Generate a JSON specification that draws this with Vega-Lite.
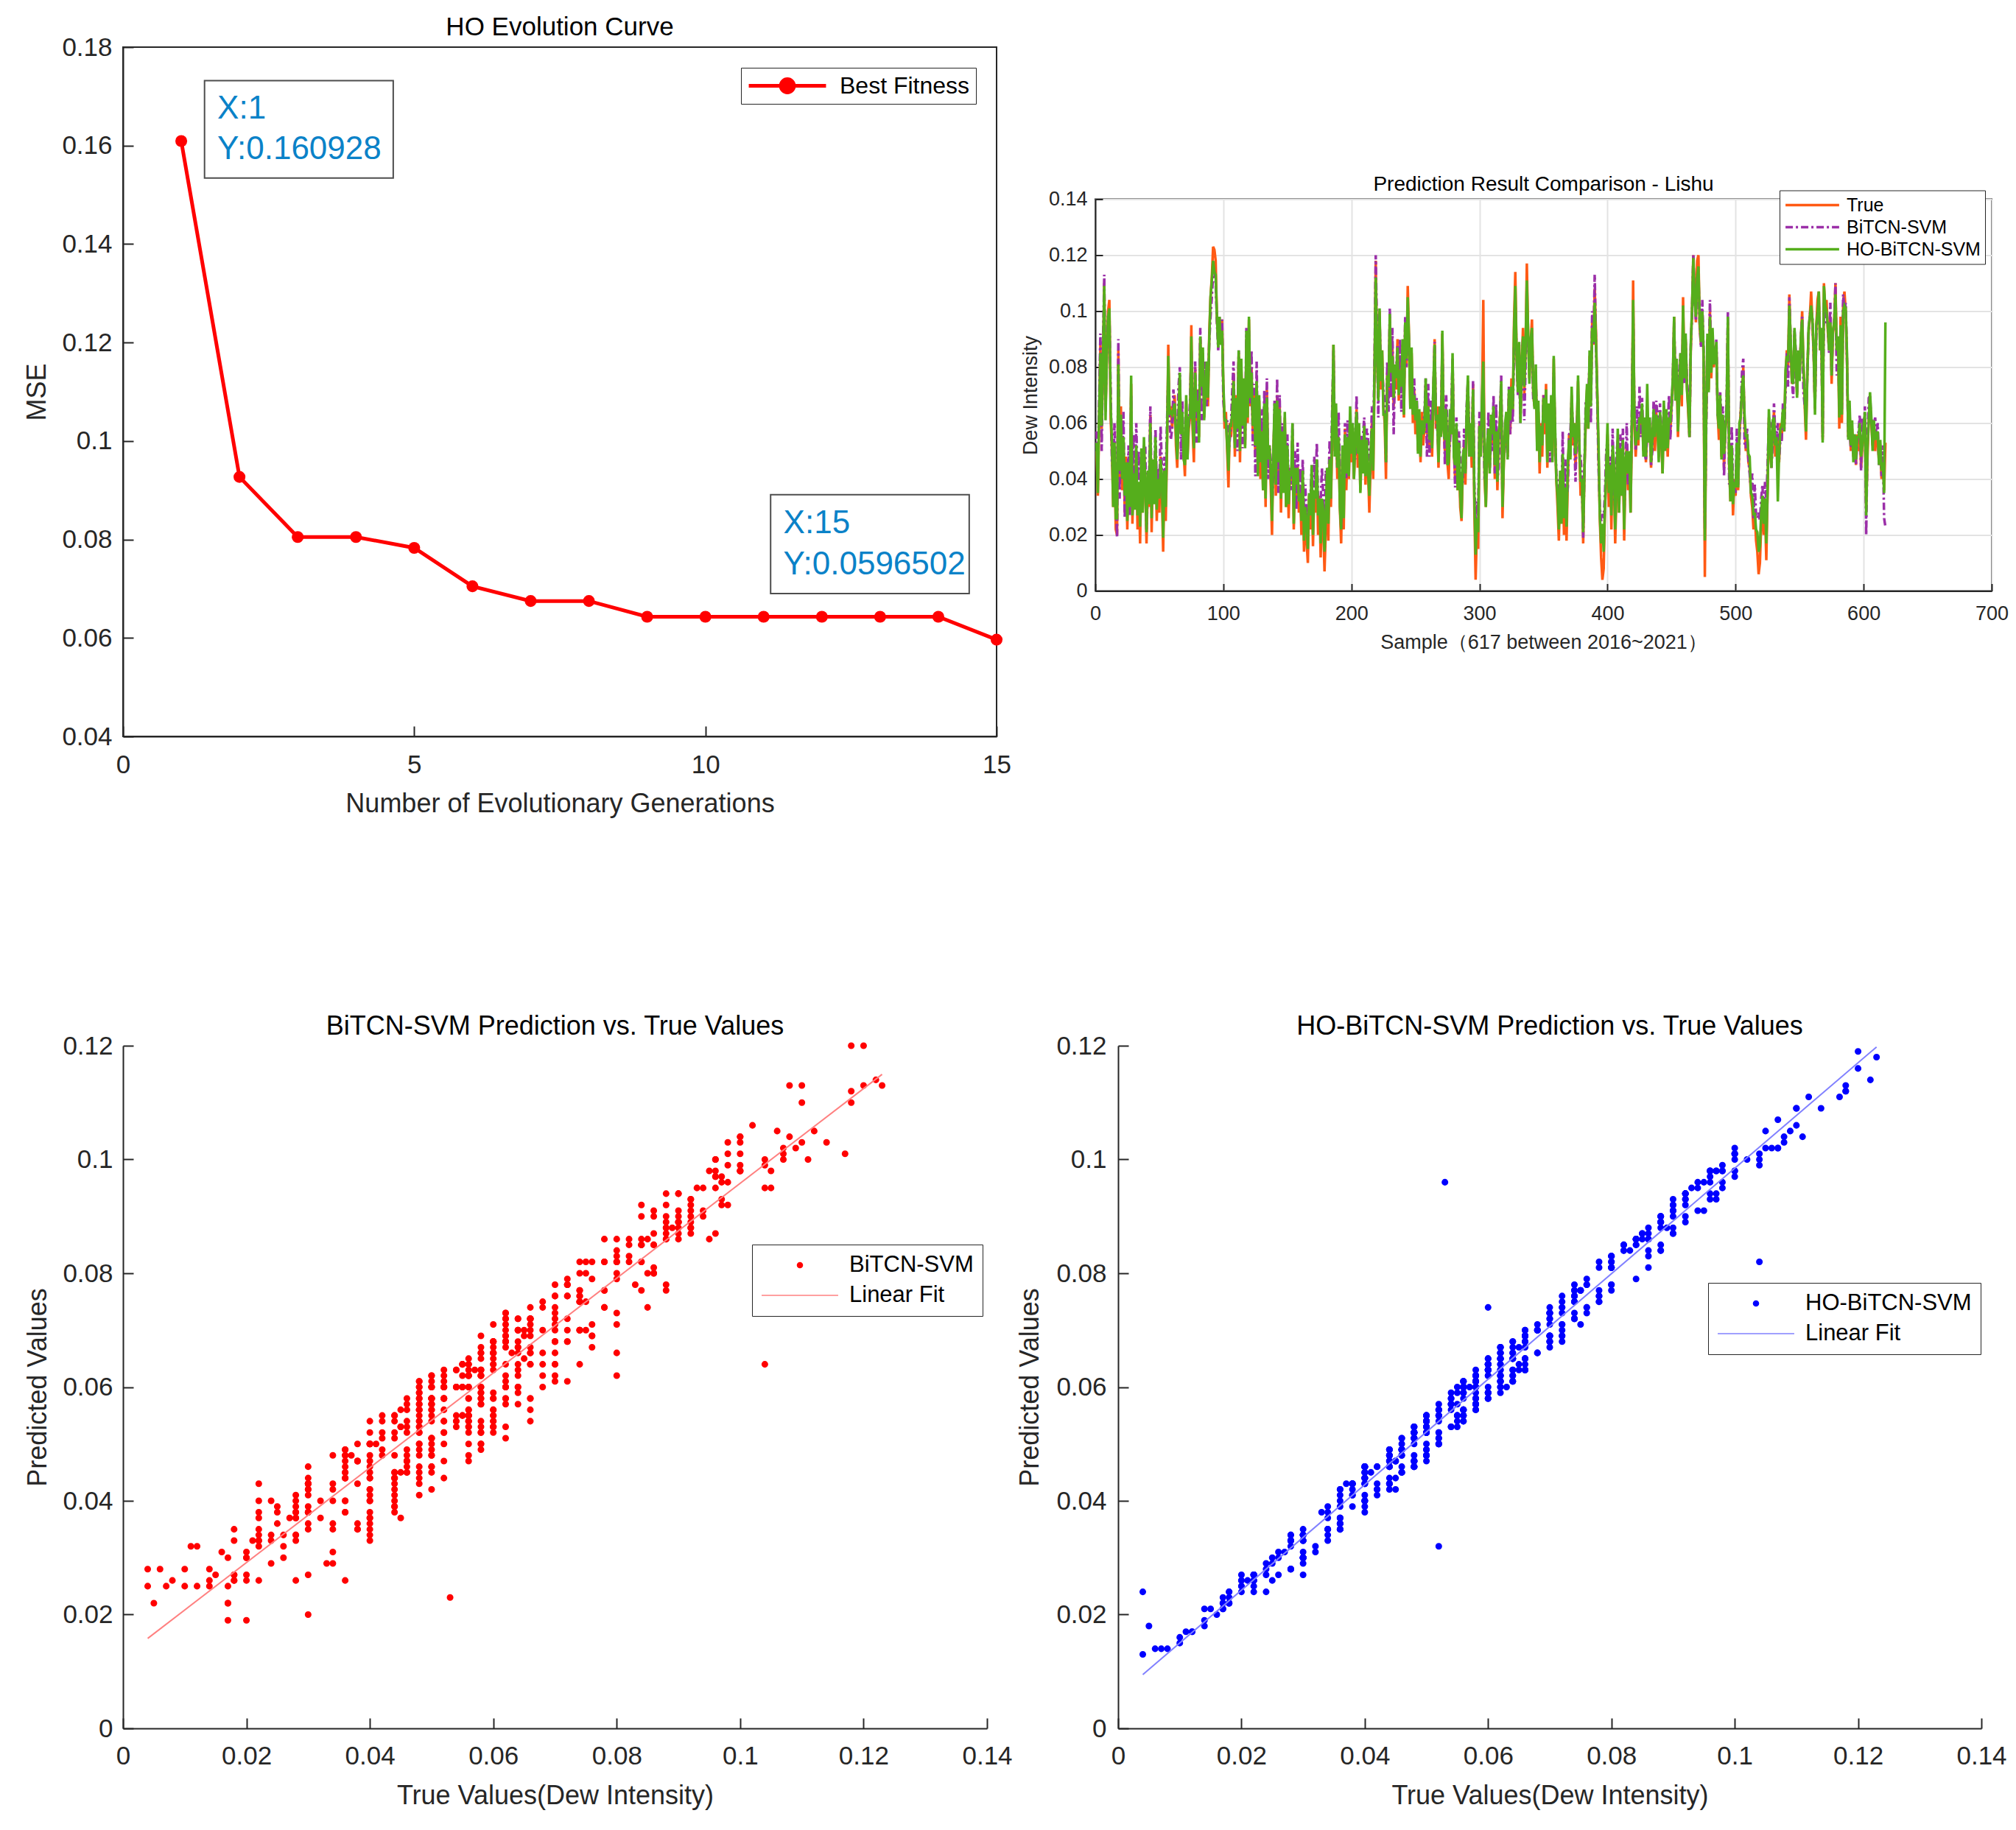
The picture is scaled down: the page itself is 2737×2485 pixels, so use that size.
{
"$schema": "https://vega.github.io/schema/vega-lite/v6.json",
"background": "white",
"padding": {"left": 31, "top": 19, "right": 8, "bottom": 10},
"config": {
  "font": "Liberation Sans",
  "view": {"stroke": null},
  "axis": {"labelFont": "Liberation Sans", "titleFont": "Liberation Sans", "labelColor": "#262626", "titleColor": "#262626", "domainColor": "#262626", "tickColor": "#262626", "titleFontWeight": "normal", "grid": false, "domainWidth": 2, "tickWidth": 2, "labelFlush": false, "labelOverlap": false},
  "title": {"font": "Liberation Sans", "fontWeight": "normal", "color": "#000000", "anchor": "middle"},
  "legend": {"labelFont": "Liberation Sans", "labelColor": "#000000", "labelLimit": 500}
},
"resolve": {"scale": {"color": "independent", "fill": "independent", "stroke": "independent", "shape": "independent", "size": "independent", "strokeDash": "independent"}, "legend": {"color": "independent", "fill": "independent", "stroke": "independent", "shape": "independent", "size": "independent", "strokeDash": "independent"}},
"datasets": {
  "evo": [{"g":1,"mse":0.160928},{"g":2,"mse":0.0927},{"g":3,"mse":0.0805},{"g":4,"mse":0.0805},{"g":5,"mse":0.0783},{"g":6,"mse":0.0705},{"g":7,"mse":0.0675},{"g":8,"mse":0.0675},{"g":9,"mse":0.0643},{"g":10,"mse":0.0643},{"g":11,"mse":0.0643},{"g":12,"mse":0.0643},{"g":13,"mse":0.0643},{"g":14,"mse":0.0643},{"g":15,"mse":0.0596502}],
  "tips": [{"x1":1.4,"x2":4.64,"y1":0.1732,"y2":0.1534},{"x1":11.12,"x2":14.53,"y1":0.0891,"y2":0.069}],
  "tipText": [{"x":1.62,"y":0.1675,"label":"X:1"},{"x":1.62,"y":0.1592,"label":"Y:0.160928"},{"x":11.34,"y":0.0832,"label":"X:15"},{"x":11.34,"y":0.0749,"label":"Y:0.0596502"}],
  "ts": [
{"i":1,"t":0.05,"b":0.057,"h":0.053},{"i":2,"t":0.034,"b":0.042,"h":0.035},{"i":3,"t":0.06,"b":0.068,"h":0.064},{"i":4,"t":0.088,"b":0.092,"h":0.085},{"i":5,"t":0.058,"b":0.05,"h":0.059},{"i":6,"t":0.078,"b":0.086,"h":0.082},{"i":7,"t":0.11,"b":0.113,"h":0.109},{"i":8,"t":0.064,"b":0.066,"h":0.061},{"i":9,"t":0.082,"b":0.085,"h":0.084},{"i":10,"t":0.1,"b":0.098,"h":0.098},
{"i":11,"t":0.104,"b":0.099,"h":0.101},{"i":12,"t":0.062,"b":0.072,"h":0.066},{"i":13,"t":0.05,"b":0.046,"h":0.053},{"i":14,"t":0.03,"b":0.043,"h":0.03},{"i":15,"t":0.048,"b":0.06,"h":0.053},{"i":16,"t":0.022,"b":0.035,"h":0.026},{"i":17,"t":0.02,"b":0.019,"h":0.026},{"i":18,"t":0.086,"b":0.09,"h":0.081},{"i":19,"t":0.04,"b":0.033,"h":0.043},{"i":20,"t":0.066,"b":0.058,"h":0.063},
{"i":21,"t":0.036,"b":0.046,"h":0.04},{"i":22,"t":0.055,"b":0.064,"h":0.055},{"i":23,"t":0.028,"b":0.026,"h":0.034},{"i":24,"t":0.048,"b":0.046,"h":0.046},{"i":25,"t":0.022,"b":0.033,"h":0.025},{"i":26,"t":0.042,"b":0.052,"h":0.046},{"i":27,"t":0.03,"b":0.027,"h":0.03},{"i":28,"t":0.074,"b":0.07,"h":0.077},{"i":29,"t":0.024,"b":0.04,"h":0.027},{"i":30,"t":0.045,"b":0.056,"h":0.042},
{"i":31,"t":0.03,"b":0.038,"h":0.029},{"i":32,"t":0.05,"b":0.06,"h":0.052},{"i":33,"t":0.022,"b":0.04,"h":0.027},{"i":34,"t":0.038,"b":0.05,"h":0.039},{"i":35,"t":0.017,"b":0.025,"h":0.023},{"i":36,"t":0.046,"b":0.046,"h":0.051},{"i":37,"t":0.028,"b":0.041,"h":0.028},{"i":38,"t":0.052,"b":0.052,"h":0.055},{"i":39,"t":0.04,"b":0.052,"h":0.038},{"i":40,"t":0.017,"b":0.022,"h":0.021},
{"i":41,"t":0.038,"b":0.035,"h":0.043},{"i":42,"t":0.03,"b":0.041,"h":0.031},{"i":43,"t":0.063,"b":0.066,"h":0.06},{"i":44,"t":0.021,"b":0.033,"h":0.026},{"i":45,"t":0.045,"b":0.037,"h":0.047},{"i":46,"t":0.032,"b":0.037,"h":0.031},{"i":47,"t":0.05,"b":0.058,"h":0.055},{"i":48,"t":0.025,"b":0.038,"h":0.029},{"i":49,"t":0.04,"b":0.044,"h":0.04},{"i":50,"t":0.028,"b":0.034,"h":0.033},
{"i":51,"t":0.048,"b":0.059,"h":0.047},{"i":52,"t":0.036,"b":0.044,"h":0.041},{"i":53,"t":0.014,"b":0.025,"h":0.019},{"i":54,"t":0.042,"b":0.048,"h":0.043},{"i":55,"t":0.025,"b":0.039,"h":0.03},{"i":56,"t":0.05,"b":0.06,"h":0.053},{"i":57,"t":0.088,"b":0.077,"h":0.084},{"i":58,"t":0.062,"b":0.06,"h":0.063},{"i":59,"t":0.066,"b":0.054,"h":0.064},{"i":60,"t":0.058,"b":0.058,"h":0.063},
{"i":61,"t":0.064,"b":0.072,"h":0.065},{"i":62,"t":0.07,"b":0.064,"h":0.067},{"i":63,"t":0.052,"b":0.058,"h":0.056},{"i":64,"t":0.044,"b":0.054,"h":0.047},{"i":65,"t":0.062,"b":0.073,"h":0.061},{"i":66,"t":0.074,"b":0.08,"h":0.078},{"i":67,"t":0.056,"b":0.047,"h":0.056},{"i":68,"t":0.06,"b":0.068,"h":0.064},{"i":69,"t":0.05,"b":0.048,"h":0.047},{"i":70,"t":0.041,"b":0.05,"h":0.045},
{"i":71,"t":0.068,"b":0.062,"h":0.07},{"i":72,"t":0.048,"b":0.058,"h":0.047},{"i":73,"t":0.058,"b":0.059,"h":0.062},{"i":74,"t":0.062,"b":0.068,"h":0.062},{"i":75,"t":0.095,"b":0.086,"h":0.091},{"i":76,"t":0.058,"b":0.063,"h":0.06},{"i":77,"t":0.046,"b":0.053,"h":0.051},{"i":78,"t":0.08,"b":0.082,"h":0.078},{"i":79,"t":0.06,"b":0.053,"h":0.064},{"i":80,"t":0.072,"b":0.072,"h":0.068},
{"i":81,"t":0.055,"b":0.062,"h":0.053},{"i":82,"t":0.09,"b":0.094,"h":0.091},{"i":83,"t":0.072,"b":0.061,"h":0.073},{"i":84,"t":0.085,"b":0.08,"h":0.087},{"i":85,"t":0.062,"b":0.071,"h":0.061},{"i":86,"t":0.075,"b":0.082,"h":0.071},{"i":87,"t":0.08,"b":0.066,"h":0.082},{"i":88,"t":0.066,"b":0.074,"h":0.069},{"i":89,"t":0.092,"b":0.089,"h":0.09},{"i":90,"t":0.105,"b":0.098,"h":0.105},
{"i":91,"t":0.112,"b":0.105,"h":0.111},{"i":92,"t":0.123,"b":0.113,"h":0.118},{"i":93,"t":0.122,"b":0.114,"h":0.114},{"i":94,"t":0.118,"b":0.11,"h":0.113},{"i":95,"t":0.097,"b":0.096,"h":0.098},{"i":96,"t":0.09,"b":0.086,"h":0.087},{"i":97,"t":0.096,"b":0.098,"h":0.098},{"i":98,"t":0.089,"b":0.088,"h":0.088},{"i":99,"t":0.097,"b":0.097,"h":0.093},{"i":100,"t":0.072,"b":0.068,"h":0.074},
{"i":101,"t":0.058,"b":0.062,"h":0.061},{"i":102,"t":0.064,"b":0.06,"h":0.061},{"i":103,"t":0.05,"b":0.061,"h":0.052},{"i":104,"t":0.037,"b":0.048,"h":0.043},{"i":105,"t":0.06,"b":0.054,"h":0.059},{"i":106,"t":0.055,"b":0.06,"h":0.059},{"i":107,"t":0.062,"b":0.072,"h":0.064},{"i":108,"t":0.078,"b":0.082,"h":0.075},{"i":109,"t":0.048,"b":0.053,"h":0.051},{"i":110,"t":0.07,"b":0.066,"h":0.069},
{"i":111,"t":0.058,"b":0.05,"h":0.058},{"i":112,"t":0.085,"b":0.086,"h":0.086},{"i":113,"t":0.046,"b":0.056,"h":0.05},{"i":114,"t":0.08,"b":0.062,"h":0.083},{"i":115,"t":0.062,"b":0.051,"h":0.059},{"i":116,"t":0.074,"b":0.07,"h":0.076},{"i":117,"t":0.052,"b":0.054,"h":0.051},{"i":118,"t":0.09,"b":0.094,"h":0.093},{"i":119,"t":0.06,"b":0.071,"h":0.062},{"i":120,"t":0.097,"b":0.093,"h":0.098},
{"i":121,"t":0.066,"b":0.067,"h":0.069},{"i":122,"t":0.08,"b":0.086,"h":0.078},{"i":123,"t":0.056,"b":0.052,"h":0.059},{"i":124,"t":0.07,"b":0.074,"h":0.069},{"i":125,"t":0.048,"b":0.041,"h":0.052},{"i":126,"t":0.074,"b":0.082,"h":0.075},{"i":127,"t":0.042,"b":0.049,"h":0.041},{"i":128,"t":0.068,"b":0.064,"h":0.07},{"i":129,"t":0.04,"b":0.05,"h":0.046},{"i":130,"t":0.058,"b":0.065,"h":0.057},
{"i":131,"t":0.036,"b":0.045,"h":0.036},{"i":132,"t":0.064,"b":0.072,"h":0.067},{"i":133,"t":0.03,"b":0.043,"h":0.033},{"i":134,"t":0.072,"b":0.076,"h":0.069},{"i":135,"t":0.044,"b":0.04,"h":0.047},{"i":136,"t":0.052,"b":0.052,"h":0.052},{"i":137,"t":0.038,"b":0.047,"h":0.043},{"i":138,"t":0.02,"b":0.03,"h":0.025},{"i":139,"t":0.05,"b":0.042,"h":0.049},{"i":140,"t":0.062,"b":0.068,"h":0.067},
{"i":141,"t":0.034,"b":0.04,"h":0.038},{"i":142,"t":0.07,"b":0.076,"h":0.068},{"i":143,"t":0.04,"b":0.035,"h":0.046},{"i":144,"t":0.066,"b":0.07,"h":0.065},{"i":145,"t":0.028,"b":0.037,"h":0.033},{"i":146,"t":0.054,"b":0.06,"h":0.057},{"i":147,"t":0.036,"b":0.049,"h":0.035},{"i":148,"t":0.062,"b":0.058,"h":0.064},{"i":149,"t":0.03,"b":0.036,"h":0.03},{"i":150,"t":0.048,"b":0.056,"h":0.052},
{"i":151,"t":0.026,"b":0.034,"h":0.031},{"i":152,"t":0.044,"b":0.044,"h":0.043},{"i":153,"t":0.038,"b":0.036,"h":0.041},{"i":154,"t":0.055,"b":0.06,"h":0.06},{"i":155,"t":0.022,"b":0.037,"h":0.024},{"i":156,"t":0.04,"b":0.05,"h":0.044},{"i":157,"t":0.033,"b":0.029,"h":0.038},{"i":158,"t":0.045,"b":0.053,"h":0.044},{"i":159,"t":0.028,"b":0.033,"h":0.032},{"i":160,"t":0.036,"b":0.044,"h":0.035},
{"i":161,"t":0.02,"b":0.03,"h":0.025},{"i":162,"t":0.038,"b":0.047,"h":0.043},{"i":163,"t":0.014,"b":0.028,"h":0.018},{"i":164,"t":0.03,"b":0.038,"h":0.03},{"i":165,"t":0.018,"b":0.026,"h":0.024},{"i":166,"t":0.01,"b":0.028,"h":0.015},{"i":167,"t":0.034,"b":0.031,"h":0.035},{"i":168,"t":0.022,"b":0.033,"h":0.027},{"i":169,"t":0.04,"b":0.045,"h":0.045},{"i":170,"t":0.016,"b":0.031,"h":0.02},
{"i":171,"t":0.036,"b":0.048,"h":0.036},{"i":172,"t":0.028,"b":0.037,"h":0.033},{"i":173,"t":0.045,"b":0.053,"h":0.047},{"i":174,"t":0.02,"b":0.031,"h":0.027},{"i":175,"t":0.034,"b":0.029,"h":0.033},{"i":176,"t":0.012,"b":0.032,"h":0.017},{"i":177,"t":0.03,"b":0.044,"h":0.033},{"i":178,"t":0.024,"b":0.034,"h":0.029},{"i":179,"t":0.007,"b":0.025,"h":0.014},{"i":180,"t":0.022,"b":0.043,"h":0.027},
{"i":181,"t":0.04,"b":0.036,"h":0.044},{"i":182,"t":0.018,"b":0.035,"h":0.024},{"i":183,"t":0.048,"b":0.054,"h":0.047},{"i":184,"t":0.03,"b":0.043,"h":0.033},{"i":185,"t":0.056,"b":0.065,"h":0.06},{"i":186,"t":0.088,"b":0.086,"h":0.088},{"i":187,"t":0.05,"b":0.057,"h":0.048},{"i":188,"t":0.062,"b":0.058,"h":0.067},{"i":189,"t":0.04,"b":0.044,"h":0.044},{"i":190,"t":0.055,"b":0.064,"h":0.055},
{"i":191,"t":0.03,"b":0.042,"h":0.03},{"i":192,"t":0.017,"b":0.022,"h":0.022},{"i":193,"t":0.048,"b":0.043,"h":0.052},{"i":194,"t":0.022,"b":0.038,"h":0.026},{"i":195,"t":0.058,"b":0.06,"h":0.056},{"i":196,"t":0.036,"b":0.04,"h":0.042},{"i":197,"t":0.052,"b":0.061,"h":0.055},{"i":198,"t":0.04,"b":0.047,"h":0.041},{"i":199,"t":0.062,"b":0.057,"h":0.066},{"i":200,"t":0.046,"b":0.052,"h":0.049},
{"i":201,"t":0.056,"b":0.06,"h":0.06},{"i":202,"t":0.04,"b":0.05,"h":0.04},{"i":203,"t":0.052,"b":0.047,"h":0.055},{"i":204,"t":0.065,"b":0.07,"h":0.064},{"i":205,"t":0.044,"b":0.052,"h":0.049},{"i":206,"t":0.058,"b":0.054,"h":0.06},{"i":207,"t":0.036,"b":0.044,"h":0.035},{"i":208,"t":0.05,"b":0.055,"h":0.054},{"i":209,"t":0.042,"b":0.055,"h":0.042},{"i":210,"t":0.056,"b":0.062,"h":0.059},
{"i":211,"t":0.038,"b":0.047,"h":0.041},{"i":212,"t":0.05,"b":0.058,"h":0.054},{"i":213,"t":0.044,"b":0.055,"h":0.043},{"i":214,"t":0.028,"b":0.038,"h":0.034},{"i":215,"t":0.046,"b":0.045,"h":0.049},{"i":216,"t":0.06,"b":0.066,"h":0.058},{"i":217,"t":0.04,"b":0.054,"h":0.043},{"i":218,"t":0.075,"b":0.08,"h":0.077},{"i":219,"t":0.118,"b":0.12,"h":0.112},{"i":220,"t":0.084,"b":0.092,"h":0.086},
{"i":221,"t":0.07,"b":0.062,"h":0.068},{"i":222,"t":0.1,"b":0.098,"h":0.101},{"i":223,"t":0.072,"b":0.078,"h":0.075},{"i":224,"t":0.086,"b":0.08,"h":0.086},{"i":225,"t":0.066,"b":0.072,"h":0.063},{"i":226,"t":0.06,"b":0.068,"h":0.063},{"i":227,"t":0.04,"b":0.046,"h":0.046},{"i":228,"t":0.078,"b":0.082,"h":0.077},{"i":229,"t":0.07,"b":0.064,"h":0.073},{"i":230,"t":0.098,"b":0.101,"h":0.099},
{"i":231,"t":0.076,"b":0.069,"h":0.078},{"i":232,"t":0.088,"b":0.094,"h":0.084},{"i":233,"t":0.066,"b":0.056,"h":0.069},{"i":234,"t":0.08,"b":0.079,"h":0.081},{"i":235,"t":0.072,"b":0.079,"h":0.076},{"i":236,"t":0.09,"b":0.088,"h":0.087},{"i":237,"t":0.068,"b":0.075,"h":0.07},{"i":238,"t":0.084,"b":0.09,"h":0.079},{"i":239,"t":0.074,"b":0.064,"h":0.073},{"i":240,"t":0.088,"b":0.086,"h":0.09},
{"i":241,"t":0.062,"b":0.069,"h":0.063},{"i":242,"t":0.095,"b":0.098,"h":0.096},{"i":243,"t":0.08,"b":0.08,"h":0.083},{"i":244,"t":0.109,"b":0.102,"h":0.105},{"i":245,"t":0.09,"b":0.087,"h":0.09},{"i":246,"t":0.066,"b":0.072,"h":0.065},{"i":247,"t":0.085,"b":0.074,"h":0.087},{"i":248,"t":0.06,"b":0.064,"h":0.063},{"i":249,"t":0.072,"b":0.076,"h":0.07},{"i":250,"t":0.056,"b":0.062,"h":0.061},
{"i":251,"t":0.066,"b":0.069,"h":0.068},{"i":252,"t":0.05,"b":0.056,"h":0.049},{"i":253,"t":0.06,"b":0.052,"h":0.065},{"i":254,"t":0.046,"b":0.054,"h":0.048},{"i":255,"t":0.064,"b":0.059,"h":0.061},{"i":256,"t":0.052,"b":0.06,"h":0.056},{"i":257,"t":0.058,"b":0.063,"h":0.058},{"i":258,"t":0.074,"b":0.076,"h":0.076},{"i":259,"t":0.056,"b":0.048,"h":0.06},{"i":260,"t":0.068,"b":0.074,"h":0.066},
{"i":261,"t":0.05,"b":0.048,"h":0.054},{"i":262,"t":0.062,"b":0.068,"h":0.061},{"i":263,"t":0.048,"b":0.061,"h":0.051},{"i":264,"t":0.07,"b":0.072,"h":0.074},{"i":265,"t":0.09,"b":0.089,"h":0.088},{"i":266,"t":0.058,"b":0.062,"h":0.061},{"i":267,"t":0.066,"b":0.058,"h":0.063},{"i":268,"t":0.044,"b":0.051,"h":0.046},{"i":269,"t":0.062,"b":0.064,"h":0.066},{"i":270,"t":0.056,"b":0.06,"h":0.055},
{"i":271,"t":0.092,"b":0.088,"h":0.093},{"i":272,"t":0.06,"b":0.066,"h":0.058},{"i":273,"t":0.05,"b":0.045,"h":0.054},{"i":274,"t":0.064,"b":0.07,"h":0.065},{"i":275,"t":0.046,"b":0.058,"h":0.045},{"i":276,"t":0.04,"b":0.048,"h":0.046},{"i":277,"t":0.062,"b":0.053,"h":0.065},{"i":278,"t":0.056,"b":0.064,"h":0.056},{"i":279,"t":0.082,"b":0.083,"h":0.085},{"i":280,"t":0.05,"b":0.054,"h":0.048},
{"i":281,"t":0.04,"b":0.037,"h":0.045},{"i":282,"t":0.058,"b":0.062,"h":0.06},{"i":283,"t":0.036,"b":0.048,"h":0.036},{"i":284,"t":0.048,"b":0.057,"h":0.053},{"i":285,"t":0.03,"b":0.046,"h":0.034},{"i":286,"t":0.025,"b":0.036,"h":0.026},{"i":287,"t":0.044,"b":0.039,"h":0.048},{"i":288,"t":0.052,"b":0.058,"h":0.051},{"i":289,"t":0.038,"b":0.043,"h":0.042},{"i":290,"t":0.06,"b":0.066,"h":0.064},
{"i":291,"t":0.075,"b":0.075,"h":0.077},{"i":292,"t":0.05,"b":0.056,"h":0.048},{"i":293,"t":0.058,"b":0.052,"h":0.06},{"i":294,"t":0.044,"b":0.048,"h":0.048},{"i":295,"t":0.074,"b":0.075,"h":0.072},{"i":296,"t":0.03,"b":0.038,"h":0.034},{"i":297,"t":0.004,"b":0.025,"h":0.013},{"i":298,"t":0.022,"b":0.032,"h":0.026},{"i":299,"t":0.015,"b":0.027,"h":0.021},{"i":300,"t":0.06,"b":0.064,"h":0.059},
{"i":301,"t":0.048,"b":0.052,"h":0.048},{"i":302,"t":0.066,"b":0.064,"h":0.069},{"i":303,"t":0.104,"b":0.064,"h":0.082},{"i":304,"t":0.04,"b":0.04,"h":0.044},{"i":305,"t":0.03,"b":0.043,"h":0.03},{"i":306,"t":0.048,"b":0.05,"h":0.053},{"i":307,"t":0.056,"b":0.064,"h":0.058},{"i":308,"t":0.044,"b":0.044,"h":0.042},{"i":309,"t":0.06,"b":0.053,"h":0.063},{"i":310,"t":0.052,"b":0.05,"h":0.056},
{"i":311,"t":0.064,"b":0.07,"h":0.066},{"i":312,"t":0.04,"b":0.042,"h":0.045},{"i":313,"t":0.058,"b":0.067,"h":0.057},{"i":314,"t":0.036,"b":0.04,"h":0.039},{"i":315,"t":0.052,"b":0.044,"h":0.057},{"i":316,"t":0.062,"b":0.062,"h":0.06},{"i":317,"t":0.074,"b":0.077,"h":0.075},{"i":318,"t":0.026,"b":0.032,"h":0.03},{"i":319,"t":0.046,"b":0.049,"h":0.046},{"i":320,"t":0.056,"b":0.054,"h":0.06},
{"i":321,"t":0.06,"b":0.055,"h":0.064},{"i":322,"t":0.048,"b":0.048,"h":0.047},{"i":323,"t":0.07,"b":0.073,"h":0.072},{"i":324,"t":0.056,"b":0.056,"h":0.061},{"i":325,"t":0.076,"b":0.067,"h":0.073},{"i":326,"t":0.064,"b":0.06,"h":0.065},{"i":327,"t":0.096,"b":0.087,"h":0.093},{"i":328,"t":0.114,"b":0.103,"h":0.109},{"i":329,"t":0.084,"b":0.085,"h":0.085},{"i":330,"t":0.072,"b":0.07,"h":0.071},
{"i":331,"t":0.088,"b":0.078,"h":0.089},{"i":332,"t":0.062,"b":0.06,"h":0.06},{"i":333,"t":0.08,"b":0.082,"h":0.081},{"i":334,"t":0.094,"b":0.09,"h":0.091},{"i":335,"t":0.07,"b":0.061,"h":0.073},{"i":336,"t":0.086,"b":0.08,"h":0.087},{"i":337,"t":0.117,"b":0.101,"h":0.111},{"i":338,"t":0.092,"b":0.088,"h":0.092},{"i":339,"t":0.076,"b":0.082,"h":0.074},{"i":340,"t":0.088,"b":0.088,"h":0.09},
{"i":341,"t":0.097,"b":0.092,"h":0.094},{"i":342,"t":0.07,"b":0.068,"h":0.072},{"i":343,"t":0.066,"b":0.072,"h":0.065},{"i":344,"t":0.078,"b":0.074,"h":0.081},{"i":345,"t":0.052,"b":0.063,"h":0.05},{"i":346,"t":0.064,"b":0.062,"h":0.068},{"i":347,"t":0.042,"b":0.051,"h":0.046},{"i":348,"t":0.06,"b":0.058,"h":0.059},{"i":349,"t":0.048,"b":0.053,"h":0.052},{"i":350,"t":0.07,"b":0.07,"h":0.069},
{"i":351,"t":0.056,"b":0.062,"h":0.06},{"i":352,"t":0.074,"b":0.07,"h":0.072},{"i":353,"t":0.044,"b":0.055,"h":0.046},{"i":354,"t":0.062,"b":0.06,"h":0.067},{"i":355,"t":0.05,"b":0.046,"h":0.05},{"i":356,"t":0.068,"b":0.066,"h":0.07},{"i":357,"t":0.048,"b":0.061,"h":0.046},{"i":358,"t":0.083,"b":0.078,"h":0.084},{"i":359,"t":0.056,"b":0.058,"h":0.06},{"i":360,"t":0.04,"b":0.042,"h":0.04},
{"i":361,"t":0.03,"b":0.039,"h":0.034},{"i":362,"t":0.018,"b":0.026,"h":0.022},{"i":363,"t":0.038,"b":0.035,"h":0.043},{"i":364,"t":0.024,"b":0.029,"h":0.024},{"i":365,"t":0.046,"b":0.057,"h":0.049},{"i":366,"t":0.02,"b":0.027,"h":0.026},{"i":367,"t":0.036,"b":0.047,"h":0.037},{"i":368,"t":0.018,"b":0.033,"h":0.023},{"i":369,"t":0.04,"b":0.037,"h":0.046},{"i":370,"t":0.056,"b":0.056,"h":0.054},
{"i":371,"t":0.048,"b":0.057,"h":0.047},{"i":372,"t":0.07,"b":0.068,"h":0.073},{"i":373,"t":0.052,"b":0.058,"h":0.055},{"i":374,"t":0.06,"b":0.056,"h":0.06},{"i":375,"t":0.044,"b":0.039,"h":0.049},{"i":376,"t":0.058,"b":0.058,"h":0.056},{"i":377,"t":0.075,"b":0.07,"h":0.077},{"i":378,"t":0.05,"b":0.05,"h":0.052},{"i":379,"t":0.034,"b":0.048,"h":0.039},{"i":380,"t":0.04,"b":0.04,"h":0.04},
{"i":381,"t":0.017,"b":0.019,"h":0.021},{"i":382,"t":0.044,"b":0.045,"h":0.043},{"i":383,"t":0.06,"b":0.068,"h":0.064},{"i":384,"t":0.072,"b":0.068,"h":0.074},{"i":385,"t":0.058,"b":0.069,"h":0.058},{"i":386,"t":0.084,"b":0.082,"h":0.086},{"i":387,"t":0.068,"b":0.06,"h":0.066},{"i":388,"t":0.096,"b":0.1,"h":0.094},{"i":389,"t":0.088,"b":0.088,"h":0.089},{"i":390,"t":0.108,"b":0.113,"h":0.103},
{"i":391,"t":0.092,"b":0.087,"h":0.089},{"i":392,"t":0.07,"b":0.068,"h":0.071},{"i":393,"t":0.048,"b":0.044,"h":0.052},{"i":394,"t":0.026,"b":0.03,"h":0.027},{"i":395,"t":0.012,"b":0.025,"h":0.017},{"i":396,"t":0.004,"b":0.028,"h":0.024},{"i":397,"t":0.008,"b":0.026,"h":0.014},{"i":398,"t":0.03,"b":0.035,"h":0.03},{"i":399,"t":0.04,"b":0.05,"h":0.044},{"i":400,"t":0.056,"b":0.054,"h":0.06},
{"i":401,"t":0.03,"b":0.043,"h":0.035},{"i":402,"t":0.046,"b":0.048,"h":0.045},{"i":403,"t":0.022,"b":0.034,"h":0.027},{"i":404,"t":0.05,"b":0.058,"h":0.052},{"i":405,"t":0.04,"b":0.034,"h":0.046},{"i":406,"t":0.017,"b":0.03,"h":0.022},{"i":407,"t":0.036,"b":0.049,"h":0.037},{"i":408,"t":0.054,"b":0.054,"h":0.058},{"i":409,"t":0.028,"b":0.04,"h":0.028},{"i":410,"t":0.048,"b":0.056,"h":0.051},
{"i":411,"t":0.034,"b":0.043,"h":0.034},{"i":412,"t":0.05,"b":0.058,"h":0.054},{"i":413,"t":0.018,"b":0.027,"h":0.022},{"i":414,"t":0.044,"b":0.044,"h":0.047},{"i":415,"t":0.052,"b":0.06,"h":0.05},{"i":416,"t":0.036,"b":0.038,"h":0.042},{"i":417,"t":0.048,"b":0.045,"h":0.05},{"i":418,"t":0.028,"b":0.034,"h":0.028},{"i":419,"t":0.056,"b":0.063,"h":0.06},{"i":420,"t":0.111,"b":0.1,"h":0.104},
{"i":421,"t":0.06,"b":0.063,"h":0.063},{"i":422,"t":0.048,"b":0.05,"h":0.052},{"i":423,"t":0.058,"b":0.066,"h":0.057},{"i":424,"t":0.052,"b":0.054,"h":0.054},{"i":425,"t":0.062,"b":0.073,"h":0.062},{"i":426,"t":0.056,"b":0.055,"h":0.061},{"i":427,"t":0.065,"b":0.069,"h":0.067},{"i":428,"t":0.05,"b":0.051,"h":0.048},{"i":429,"t":0.058,"b":0.049,"h":0.062},{"i":430,"t":0.046,"b":0.047,"h":0.048},
{"i":431,"t":0.06,"b":0.056,"h":0.074},{"i":432,"t":0.054,"b":0.06,"h":0.053},{"i":433,"t":0.058,"b":0.06,"h":0.062},{"i":434,"t":0.044,"b":0.045,"h":0.046},{"i":435,"t":0.056,"b":0.05,"h":0.054},{"i":436,"t":0.062,"b":0.068,"h":0.065},{"i":437,"t":0.05,"b":0.062,"h":0.055},{"i":438,"t":0.064,"b":0.068,"h":0.063},{"i":439,"t":0.058,"b":0.063,"h":0.061},{"i":440,"t":0.048,"b":0.055,"h":0.046},
{"i":441,"t":0.06,"b":0.067,"h":0.064},{"i":442,"t":0.054,"b":0.053,"h":0.056},{"i":443,"t":0.042,"b":0.054,"h":0.042},{"i":444,"t":0.066,"b":0.066,"h":0.068},{"i":445,"t":0.052,"b":0.058,"h":0.05},{"i":446,"t":0.06,"b":0.058,"h":0.065},{"i":447,"t":0.048,"b":0.058,"h":0.051},{"i":448,"t":0.062,"b":0.07,"h":0.062},{"i":449,"t":0.056,"b":0.054,"h":0.06},{"i":450,"t":0.066,"b":0.064,"h":0.067},
{"i":451,"t":0.074,"b":0.076,"h":0.076},{"i":452,"t":0.098,"b":0.096,"h":0.098},{"i":453,"t":0.07,"b":0.076,"h":0.068},{"i":454,"t":0.08,"b":0.082,"h":0.083},{"i":455,"t":0.055,"b":0.064,"h":0.057},{"i":456,"t":0.072,"b":0.078,"h":0.069},{"i":457,"t":0.084,"b":0.085,"h":0.085},{"i":458,"t":0.066,"b":0.072,"h":0.07},{"i":459,"t":0.105,"b":0.095,"h":0.102},{"i":460,"t":0.078,"b":0.074,"h":0.076},
{"i":461,"t":0.09,"b":0.089,"h":0.092},{"i":462,"t":0.074,"b":0.075,"h":0.072},{"i":463,"t":0.064,"b":0.07,"h":0.066},{"i":464,"t":0.055,"b":0.055,"h":0.055},{"i":465,"t":0.086,"b":0.087,"h":0.088},{"i":466,"t":0.1,"b":0.099,"h":0.101},{"i":467,"t":0.12,"b":0.12,"h":0.119},{"i":468,"t":0.108,"b":0.104,"h":0.104},{"i":469,"t":0.096,"b":0.097,"h":0.098},{"i":470,"t":0.118,"b":0.112,"h":0.112},
{"i":471,"t":0.12,"b":0.113,"h":0.116},{"i":472,"t":0.094,"b":0.095,"h":0.096},{"i":473,"t":0.088,"b":0.087,"h":0.089},{"i":474,"t":0.1,"b":0.104,"h":0.1},{"i":475,"t":0.084,"b":0.086,"h":0.086},{"i":476,"t":0.005,"b":0.022,"h":0.018},{"i":477,"t":0.06,"b":0.055,"h":0.059},{"i":478,"t":0.09,"b":0.089,"h":0.092},{"i":479,"t":0.072,"b":0.078,"h":0.071},{"i":480,"t":0.1,"b":0.104,"h":0.098},
{"i":481,"t":0.076,"b":0.079,"h":0.078},{"i":482,"t":0.092,"b":0.091,"h":0.094},{"i":483,"t":0.08,"b":0.084,"h":0.081},{"i":484,"t":0.086,"b":0.081,"h":0.083},{"i":485,"t":0.088,"b":0.09,"h":0.089},{"i":486,"t":0.064,"b":0.063,"h":0.063},{"i":487,"t":0.054,"b":0.063,"h":0.058},{"i":488,"t":0.066,"b":0.071,"h":0.07},{"i":489,"t":0.048,"b":0.06,"h":0.047},{"i":490,"t":0.06,"b":0.066,"h":0.063},
{"i":491,"t":0.044,"b":0.041,"h":0.049},{"i":492,"t":0.058,"b":0.059,"h":0.057},{"i":493,"t":0.062,"b":0.067,"h":0.065},{"i":494,"t":0.096,"b":0.1,"h":0.098},{"i":495,"t":0.044,"b":0.038,"h":0.046},{"i":496,"t":0.032,"b":0.04,"h":0.032},{"i":497,"t":0.048,"b":0.059,"h":0.052},{"i":498,"t":0.027,"b":0.037,"h":0.031},{"i":499,"t":0.04,"b":0.038,"h":0.039},{"i":500,"t":0.034,"b":0.035,"h":0.037},
{"i":501,"t":0.05,"b":0.058,"h":0.053},{"i":502,"t":0.036,"b":0.038,"h":0.037},{"i":503,"t":0.056,"b":0.053,"h":0.06},{"i":504,"t":0.064,"b":0.064,"h":0.062},{"i":505,"t":0.07,"b":0.078,"h":0.073},{"i":506,"t":0.08,"b":0.083,"h":0.077},{"i":507,"t":0.06,"b":0.053,"h":0.063},{"i":508,"t":0.05,"b":0.051,"h":0.055},{"i":509,"t":0.056,"b":0.058,"h":0.056},{"i":510,"t":0.046,"b":0.047,"h":0.049},
{"i":511,"t":0.044,"b":0.042,"h":0.048},{"i":512,"t":0.034,"b":0.036,"h":0.035},{"i":513,"t":0.03,"b":0.042,"h":0.034},{"i":514,"t":0.022,"b":0.026,"h":0.027},{"i":515,"t":0.028,"b":0.038,"h":0.028},{"i":516,"t":0.018,"b":0.027,"h":0.022},{"i":517,"t":0.014,"b":0.026,"h":0.021},{"i":518,"t":0.006,"b":0.028,"h":0.014},{"i":519,"t":0.01,"b":0.025,"h":0.016},{"i":520,"t":0.024,"b":0.033,"h":0.028},
{"i":521,"t":0.03,"b":0.038,"h":0.034},{"i":522,"t":0.02,"b":0.026,"h":0.024},{"i":523,"t":0.028,"b":0.039,"h":0.033},{"i":524,"t":0.011,"b":0.032,"h":0.017},{"i":525,"t":0.036,"b":0.045,"h":0.036},{"i":526,"t":0.062,"b":0.061,"h":0.065},{"i":527,"t":0.05,"b":0.06,"h":0.054},{"i":528,"t":0.044,"b":0.044,"h":0.044},{"i":529,"t":0.058,"b":0.053,"h":0.061},{"i":530,"t":0.064,"b":0.067,"h":0.062},
{"i":531,"t":0.048,"b":0.056,"h":0.052},{"i":532,"t":0.056,"b":0.055,"h":0.055},{"i":533,"t":0.052,"b":0.06,"h":0.032},{"i":534,"t":0.046,"b":0.047,"h":0.049},{"i":535,"t":0.06,"b":0.054,"h":0.058},{"i":536,"t":0.054,"b":0.054,"h":0.059},{"i":537,"t":0.064,"b":0.067,"h":0.065},{"i":538,"t":0.058,"b":0.057,"h":0.057},{"i":539,"t":0.076,"b":0.071,"h":0.079},{"i":540,"t":0.086,"b":0.085,"h":0.084},
{"i":541,"t":0.08,"b":0.073,"h":0.082},{"i":542,"t":0.106,"b":0.105,"h":0.102},{"i":543,"t":0.088,"b":0.089,"h":0.09},{"i":544,"t":0.074,"b":0.075,"h":0.075},{"i":545,"t":0.076,"b":0.069,"h":0.074},{"i":546,"t":0.092,"b":0.093,"h":0.094},{"i":547,"t":0.082,"b":0.086,"h":0.084},{"i":548,"t":0.07,"b":0.071,"h":0.069},{"i":549,"t":0.084,"b":0.082,"h":0.086},{"i":550,"t":0.078,"b":0.077,"h":0.075},
{"i":551,"t":0.09,"b":0.09,"h":0.091},{"i":552,"t":0.1,"b":0.098,"h":0.097},{"i":553,"t":0.08,"b":0.071,"h":0.081},{"i":554,"t":0.066,"b":0.066,"h":0.069},{"i":555,"t":0.054,"b":0.063,"h":0.057},{"i":556,"t":0.078,"b":0.077,"h":0.076},{"i":557,"t":0.092,"b":0.092,"h":0.094},{"i":558,"t":0.098,"b":0.099,"h":0.098},{"i":559,"t":0.107,"b":0.101,"h":0.102},{"i":560,"t":0.096,"b":0.097,"h":0.097},
{"i":561,"t":0.084,"b":0.085,"h":0.086},{"i":562,"t":0.065,"b":0.065,"h":0.063},{"i":563,"t":0.094,"b":0.091,"h":0.095},{"i":564,"t":0.104,"b":0.1,"h":0.099},{"i":565,"t":0.107,"b":0.102,"h":0.107},{"i":566,"t":0.086,"b":0.091,"h":0.086},{"i":567,"t":0.092,"b":0.09,"h":0.094},{"i":568,"t":0.054,"b":0.055,"h":0.053},{"i":569,"t":0.11,"b":0.103,"h":0.109},{"i":570,"t":0.1,"b":0.101,"h":0.102},
{"i":571,"t":0.104,"b":0.095,"h":0.1},{"i":572,"t":0.093,"b":0.095,"h":0.095},{"i":573,"t":0.086,"b":0.085,"h":0.086},{"i":574,"t":0.098,"b":0.103,"h":0.096},{"i":575,"t":0.074,"b":0.077,"h":0.077},{"i":576,"t":0.092,"b":0.093,"h":0.093},{"i":577,"t":0.096,"b":0.095,"h":0.096},{"i":578,"t":0.11,"b":0.11,"h":0.106},{"i":579,"t":0.084,"b":0.077,"h":0.086},{"i":580,"t":0.09,"b":0.091,"h":0.091},
{"i":581,"t":0.058,"b":0.066,"h":0.062},{"i":582,"t":0.098,"b":0.092,"h":0.095},{"i":583,"t":0.06,"b":0.065,"h":0.063},{"i":584,"t":0.102,"b":0.106,"h":0.1},{"i":585,"t":0.107,"b":0.1,"h":0.102},{"i":586,"t":0.1,"b":0.103,"h":0.101},{"i":587,"t":0.082,"b":0.082,"h":0.085},{"i":588,"t":0.055,"b":0.055,"h":0.054},{"i":589,"t":0.064,"b":0.057,"h":0.068},{"i":590,"t":0.05,"b":0.051,"h":0.052},
{"i":591,"t":0.058,"b":0.052,"h":0.061},{"i":592,"t":0.048,"b":0.049,"h":0.046},{"i":593,"t":0.052,"b":0.056,"h":0.056},{"i":594,"t":0.045,"b":0.045,"h":0.047},{"i":595,"t":0.056,"b":0.053,"h":0.055},{"i":596,"t":0.05,"b":0.057,"h":0.055},{"i":597,"t":0.057,"b":0.063,"h":0.06},{"i":598,"t":0.044,"b":0.043,"h":0.048},{"i":599,"t":0.052,"b":0.062,"h":0.052},{"i":600,"t":0.056,"b":0.055,"h":0.059},
{"i":601,"t":0.06,"b":0.066,"h":0.064},{"i":602,"t":0.03,"b":0.02,"h":0.027},{"i":603,"t":0.048,"b":0.054,"h":0.051},{"i":604,"t":0.062,"b":0.069,"h":0.061},{"i":605,"t":0.068,"b":0.07,"h":0.071},{"i":606,"t":0.06,"b":0.059,"h":0.062},{"i":607,"t":0.052,"b":0.06,"h":0.05},{"i":608,"t":0.058,"b":0.057,"h":0.061},{"i":609,"t":0.05,"b":0.062,"h":0.054},{"i":610,"t":0.056,"b":0.055,"h":0.056},
{"i":611,"t":0.054,"b":0.06,"h":0.057},{"i":612,"t":0.046,"b":0.045,"h":0.045},{"i":613,"t":0.05,"b":0.049,"h":0.054},{"i":614,"t":0.04,"b":0.041,"h":0.043},{"i":615,"t":0.048,"b":0.052,"h":0.046},{"i":616,"t":0.036,"b":0.026,"h":0.035},{"i":617,"t":0.053,"b":0.023,"h":0.096}
  ]
},
"spacing": 266,
"vconcat": [
  {
    "resolve": {"scale": {"color": "independent", "strokeDash": "independent"}, "legend": {"color": "independent", "strokeDash": "independent"}},
    "hconcat": [
      {
        "width": 1186, "height": 936,
        "view": {"stroke": "#262626", "strokeWidth": 2},
        "title": {"text": "HO Evolution Curve", "fontSize": 35, "offset": -8},
        "layer": [
          {
            "data": {"name": "evo"},
            "mark": {"type": "line", "strokeWidth": 5, "point": {"filled": true, "size": 260}},
            "encoding": {
              "x": {"field": "g", "type": "quantitative", "title": "Number of Evolutionary Generations", "scale": {"domain": [0, 15], "nice": false, "zero": false},
                    "axis": {"values": [0, 5, 10, 15], "format": "~g", "labelFontSize": 35, "titleFontSize": 36, "tickSize": -14, "labelPadding": 35, "titlePadding": 18}},
              "y": {"field": "mse", "type": "quantitative", "title": "MSE", "scale": {"domain": [0.04, 0.18], "nice": false, "zero": false},
                    "axis": {"values": [0.04, 0.06, 0.08, 0.1, 0.12, 0.14, 0.16, 0.18], "format": "~g", "labelFontSize": 35, "titleFontSize": 36, "tickSize": -14, "labelPadding": 29, "titlePadding": 14}},
              "color": {"datum": "Best Fitness", "scale": {"domain": ["Best Fitness"], "range": ["#FF0000"]},
                "legend": {"orient": "top-right", "offset": 28, "title": null, "labelFontSize": 32, "padding": 8, "strokeColor": "#262626", "fillColor": "white",
                  "symbolType": "M-1,0H1M-0.17,0A0.17,0.17,0,1,1,0.17,0A0.17,0.17,0,1,1,-0.17,0Z", "symbolSize": 11000, "labelOffset": 16, "clipHeight": 33,
                  "symbolFillColor": "#FF0000", "symbolStrokeColor": "#FF0000", "symbolStrokeWidth": 5}}
            }
          },
          {
            "data": {"name": "tips"},
            "mark": {"type": "rect", "fill": "white", "stroke": "#4d4d4d", "strokeWidth": 2},
            "encoding": {
              "x": {"field": "x1", "type": "quantitative", "title": "Number of Evolutionary Generations"},
              "x2": {"field": "x2"},
              "y": {"field": "y1", "type": "quantitative", "title": "MSE"},
              "y2": {"field": "y2"}
            }
          },
          {
            "data": {"name": "tipText"},
            "mark": {"type": "text", "align": "left", "baseline": "middle", "fontSize": 44, "color": "#0A82C8"},
            "encoding": {
              "x": {"field": "x", "type": "quantitative", "title": "Number of Evolutionary Generations"},
              "y": {"field": "y", "type": "quantitative", "title": "MSE"},
              "text": {"field": "label"}
            }
          }
        ]
      },
      {
        "width": 1217, "height": 532,
        "view": {"stroke": "#262626", "strokeWidth": 2},
        "title": {"text": "Prediction Result Comparison -  Lishu", "fontSize": 28, "offset": -8},
        "data": {"name": "ts"},
        "encoding": {
          "x": {"field": "i", "type": "quantitative", "title": ["Sample（617 between 2016~2021）", ""], "scale": {"domain": [0, 700], "nice": false},
                "axis": {"values": [0, 100, 200, 300, 400, 500, 600, 700], "labelFontSize": 27, "titleFontSize": 27, "titleLineHeight": 17, "tickSize": -10, "labelPadding": 28, "titlePadding": 13, "grid": true, "gridColor": "#E3E3E3", "gridWidth": 2}}
        },
        "layer": [
          {
            "mark": {"type": "line", "strokeWidth": 3.5},
            "encoding": {
              "y": {"field": "t", "type": "quantitative", "title": "Dew Intensity", "scale": {"domain": [0, 0.14], "nice": false},
                    "axis": {"values": [0, 0.02, 0.04, 0.06, 0.08, 0.1, 0.12, 0.14], "format": "~g", "labelFontSize": 27, "titleFontSize": 27, "tickSize": -10, "labelPadding": 21, "titlePadding": 10, "grid": true, "gridColor": "#E3E3E3", "gridWidth": 2}},
              "color": {"datum": "True", "scale": {"domain": ["True", "BiTCN-SVM", "HO-BiTCN-SVM"], "range": ["#FF5A14", "#9B2FA8", "#55AE1C"]},
                "legend": {"orient": "none", "legendX": 929, "legendY": -12, "title": null, "labelFontSize": 25, "padding": 6, "strokeColor": "#262626", "fillColor": "white", "symbolType": "stroke", "symbolSize": 5300, "symbolStrokeWidth": 3.5, "rowPadding": 2, "clipHeight": 28, "labelOffset": 8}},
              "strokeDash": {"datum": "True", "scale": {"domain": ["True", "BiTCN-SVM", "HO-BiTCN-SVM"], "range": [[1, 0], [10, 4, 3, 4], [1, 0]]},
                "legend": {"orient": "none", "legendX": 929, "legendY": -12, "title": null, "labelFontSize": 25, "padding": 6, "strokeColor": "#262626", "fillColor": "white", "symbolType": "stroke", "symbolSize": 5300, "symbolStrokeWidth": 3.5, "rowPadding": 2, "clipHeight": 28, "labelOffset": 8}}
            }
          },
          {
            "mark": {"type": "line", "strokeWidth": 3.5},
            "encoding": {
              "y": {"field": "b", "type": "quantitative", "title": "Dew Intensity"},
              "color": {"datum": "BiTCN-SVM"},
              "strokeDash": {"datum": "BiTCN-SVM"}
            }
          },
          {
            "mark": {"type": "line", "strokeWidth": 3.5},
            "encoding": {
              "y": {"field": "h", "type": "quantitative", "title": "Dew Intensity"},
              "color": {"datum": "HO-BiTCN-SVM"},
              "strokeDash": {"datum": "HO-BiTCN-SVM"}
            }
          }
        ]
      }
    ],
    "spacing": 10,
    "center": true
  },
  {
    "resolve": {"scale": {"fill": "independent", "stroke": "independent", "shape": "independent", "size": "independent"}, "legend": {"fill": "independent", "stroke": "independent", "shape": "independent", "size": "independent"}},
    "hconcat": [
      {
        "width": 1173, "height": 927,
        "title": {"text": "BiTCN-SVM Prediction vs. True Values", "fontSize": 36, "offset": -10},
        "data": {"name": "ts"},
        "layer": [
          {
            "mark": {"type": "point", "filled": true, "opacity": 1, "strokeWidth": 2},
            "encoding": {
              "x": {"field": "t", "type": "quantitative", "title": "True Values(Dew Intensity)", "scale": {"domain": [0, 0.14], "nice": false},
                    "axis": {"values": [0, 0.02, 0.04, 0.06, 0.08, 0.1, 0.12, 0.14], "format": "~g", "labelFontSize": 35, "titleFontSize": 36, "tickSize": -14, "labelPadding": 34, "titlePadding": 19}},
              "y": {"field": "b", "type": "quantitative", "title": "Predicted Values", "scale": {"domain": [0, 0.12], "nice": false},
                    "axis": {"values": [0, 0.02, 0.04, 0.06, 0.08, 0.1, 0.12], "format": "~g", "labelFontSize": 35, "titleFontSize": 36, "tickSize": -14, "labelPadding": 28, "titlePadding": 14}},
              "fill": {"datum": "BiTCN-SVM", "scale": {"domain": ["BiTCN-SVM", "Linear Fit"], "range": ["#FF0000", "#FF8080"]},
                "legend": {"orient": "none", "legendX": 854, "legendY": 270, "title": null, "labelFontSize": 31, "padding": 12, "strokeColor": "#262626", "fillColor": "white", "rowPadding": 9, "clipHeight": 32, "labelOffset": 14}},
              "stroke": {"datum": "BiTCN-SVM", "scale": {"domain": ["BiTCN-SVM", "Linear Fit"], "range": ["#FF0000", "#FF8080"]},
                "legend": {"orient": "none", "legendX": 854, "legendY": 270, "title": null, "labelFontSize": 31, "padding": 12, "strokeColor": "#262626", "fillColor": "white", "rowPadding": 9, "clipHeight": 32, "labelOffset": 14}},
              "shape": {"datum": "BiTCN-SVM", "scale": {"domain": ["BiTCN-SVM", "Linear Fit"], "range": ["circle", "stroke"]},
                "legend": {"orient": "none", "legendX": 854, "legendY": 270, "title": null, "labelFontSize": 31, "padding": 12, "strokeColor": "#262626", "fillColor": "white", "rowPadding": 9, "clipHeight": 32, "labelOffset": 14}},
              "size": {"datum": "BiTCN-SVM", "scale": {"type": "ordinal", "domain": ["BiTCN-SVM", "Linear Fit"], "range": [50, 10800]},
                "legend": {"orient": "none", "legendX": 854, "legendY": 270, "title": null, "labelFontSize": 31, "padding": 12, "strokeColor": "#262626", "fillColor": "white", "rowPadding": 9, "clipHeight": 32, "labelOffset": 14}}
            }
          },
          {
            "transform": [{"regression": "b", "on": "t"}],
            "mark": {"type": "line", "strokeWidth": 2},
            "encoding": {
              "x": {"field": "t", "type": "quantitative", "title": "True Values(Dew Intensity)"},
              "y": {"field": "b", "type": "quantitative", "title": "Predicted Values"},
              "stroke": {"datum": "Linear Fit"}
            }
          }
        ]
      },
      {
        "width": 1172, "height": 927,
        "title": {"text": "HO-BiTCN-SVM Prediction vs. True Values", "fontSize": 36, "offset": -10},
        "data": {"name": "ts"},
        "layer": [
          {
            "mark": {"type": "point", "filled": true, "opacity": 1, "strokeWidth": 2},
            "encoding": {
              "x": {"field": "t", "type": "quantitative", "title": "True Values(Dew Intensity)", "scale": {"domain": [0, 0.14], "nice": false},
                    "axis": {"values": [0, 0.02, 0.04, 0.06, 0.08, 0.1, 0.12, 0.14], "format": "~g", "labelFontSize": 35, "titleFontSize": 36, "tickSize": -14, "labelPadding": 34, "titlePadding": 19}},
              "y": {"field": "h", "type": "quantitative", "title": "Predicted Values", "scale": {"domain": [0, 0.12], "nice": false},
                    "axis": {"values": [0, 0.02, 0.04, 0.06, 0.08, 0.1, 0.12], "format": "~g", "labelFontSize": 35, "titleFontSize": 36, "tickSize": -14, "labelPadding": 30, "titlePadding": 16}},
              "fill": {"datum": "HO-BiTCN-SVM", "scale": {"domain": ["HO-BiTCN-SVM", "Linear Fit"], "range": ["#0000FF", "#8080FF"]},
                "legend": {"orient": "none", "legendX": 801, "legendY": 322, "title": null, "labelFontSize": 31, "padding": 12, "strokeColor": "#262626", "fillColor": "white", "rowPadding": 9, "clipHeight": 32, "labelOffset": 14}},
              "stroke": {"datum": "HO-BiTCN-SVM", "scale": {"domain": ["HO-BiTCN-SVM", "Linear Fit"], "range": ["#0000FF", "#8080FF"]},
                "legend": {"orient": "none", "legendX": 801, "legendY": 322, "title": null, "labelFontSize": 31, "padding": 12, "strokeColor": "#262626", "fillColor": "white", "rowPadding": 9, "clipHeight": 32, "labelOffset": 14}},
              "shape": {"datum": "HO-BiTCN-SVM", "scale": {"domain": ["HO-BiTCN-SVM", "Linear Fit"], "range": ["circle", "stroke"]},
                "legend": {"orient": "none", "legendX": 801, "legendY": 322, "title": null, "labelFontSize": 31, "padding": 12, "strokeColor": "#262626", "fillColor": "white", "rowPadding": 9, "clipHeight": 32, "labelOffset": 14}},
              "size": {"datum": "HO-BiTCN-SVM", "scale": {"type": "ordinal", "domain": ["HO-BiTCN-SVM", "Linear Fit"], "range": [50, 10800]},
                "legend": {"orient": "none", "legendX": 801, "legendY": 322, "title": null, "labelFontSize": 31, "padding": 12, "strokeColor": "#262626", "fillColor": "white", "rowPadding": 9, "clipHeight": 32, "labelOffset": 14}}
            }
          },
          {
            "transform": [{"regression": "h", "on": "t"}],
            "mark": {"type": "line", "strokeWidth": 2},
            "encoding": {
              "x": {"field": "t", "type": "quantitative", "title": "True Values(Dew Intensity)"},
              "y": {"field": "h", "type": "quantitative", "title": "Predicted Values"},
              "stroke": {"datum": "Linear Fit"}
            }
          }
        ]
      }
    ],
    "spacing": 5
  }
]
}
